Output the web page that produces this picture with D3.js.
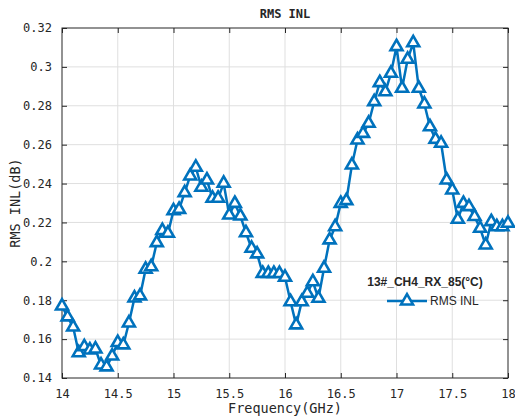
<!DOCTYPE html>
<html>
<head>
<meta charset="utf-8">
<script src="https://cdn.jsdelivr.net/npm/d3@7"></script>
<style>
  body { margin: 0; background: #fff; }
  svg text { fill: #262626; }
</style>
</head>
<body>
<div id="chart"></div>
<script>
// frequency grid, 14 to 18 GHz in 0.05 steps
var freqs = d3.range(81).map(function (i) { return +(14 + i * 0.05).toFixed(2) })

// RMS INL values
var rmsInl = [
  0.1770, 0.1714, 0.1662, 0.1530, 0.1561, 0.1544, 0.1549, 0.1467, 0.1457, 0.1513,
  0.1582, 0.1570, 0.1683, 0.1811, 0.1822, 0.1959, 0.1972, 0.2096, 0.2158, 0.2144,
  0.2260, 0.2267, 0.2353, 0.2439, 0.2484, 0.2381, 0.2418, 0.2324, 0.2324, 0.2401,
  0.2238, 0.2298, 0.2233, 0.2147, 0.2067, 0.2038, 0.1938, 0.1938, 0.1938, 0.1937,
  0.1918, 0.1792, 0.1673, 0.1792, 0.1836, 0.1895, 0.1810, 0.1964, 0.2110, 0.2178,
  0.2298, 0.2312, 0.2495, 0.2624, 0.2658, 0.2710, 0.2821, 0.2919, 0.2872, 0.2967,
  0.3104, 0.2890, 0.3039, 0.3124, 0.2890, 0.2809, 0.2692, 0.2628, 0.2607, 0.2418,
  0.2367, 0.2216, 0.2298, 0.2281, 0.2230, 0.2170, 0.2084, 0.2204, 0.2178, 0.2178,
  0.2196
]

var xTicks = [14, 14.5, 15, 15.5, 16, 16.5, 17, 17.5, 18]
var yTicks = [0.14, 0.16, 0.18, 0.2, 0.22, 0.24, 0.26, 0.28, 0.3, 0.32]

var W = 515
var H = 419
var margin = {top: 28, right: 7, bottom: 41, left: 62}
var width = W - margin.left - margin.right
var height = H - margin.top - margin.bottom
var blue = '#0072BD'
var mono = '"DejaVu Sans Mono", monospace'

var svg = d3.select('#chart')
  .append('svg')
  .attr('width', W)
  .attr('height', H)

var g = svg.append('g')
  .attr('transform', 'translate(' + margin.left + ',' + margin.top + ')')

var x = d3.scaleLinear().domain([14, 18]).range([0, width])
var y = d3.scaleLinear().domain([0.14, 0.32]).range([height, 0])

// grid
g.append('g').selectAll('line')
  .data(xTicks.slice(1, -1))
  .enter().append('line')
  .attr('x1', function (d) { return x(d) }).attr('x2', function (d) { return x(d) })
  .attr('y1', 0).attr('y2', height)
  .attr('stroke', '#dfdfdf').attr('stroke-width', 1)
g.append('g').selectAll('line')
  .data(yTicks.slice(1, -1))
  .enter().append('line')
  .attr('y1', function (d) { return y(d) }).attr('y2', function (d) { return y(d) })
  .attr('x1', 0).attr('x2', width)
  .attr('stroke', '#dfdfdf').attr('stroke-width', 1)

// axes, ticks pointing inward
var fmt = function (d) { return String(+d.toFixed(2)) }
function styleAxis (sel) {
  sel.select('.domain').remove()
  sel.selectAll('.tick line').attr('stroke', '#262626')
  sel.selectAll('.tick text').style('font-family', mono).style('font-size', '12px').attr('fill', '#262626')
}
g.append('g').attr('transform', 'translate(0,' + height + ')')
  .call(d3.axisBottom(x).tickValues(xTicks).tickFormat(fmt).tickSizeInner(-5).tickSizeOuter(0).tickPadding(11))
  .call(styleAxis)
g.append('g')
  .call(d3.axisTop(x).tickValues(xTicks).tickFormat('').tickSizeInner(-5).tickSizeOuter(0))
  .call(styleAxis)
g.append('g')
  .call(d3.axisLeft(y).tickValues(yTicks).tickFormat(fmt).tickSizeInner(-5).tickSizeOuter(0).tickPadding(10))
  .call(styleAxis)
g.append('g').attr('transform', 'translate(' + width + ',0)')
  .call(d3.axisRight(y).tickValues(yTicks).tickFormat('').tickSizeInner(-5).tickSizeOuter(0))
  .call(styleAxis)

g.append('rect')
  .attr('x', 0).attr('y', 0).attr('width', width).attr('height', height)
  .attr('fill', 'none').attr('stroke', '#262626').attr('stroke-width', 1)

// series
var pts = freqs.map(function (f, i) { return [f, rmsInl[i]] })
var line = d3.line().x(function (d) { return x(d[0]) }).y(function (d) { return y(d[1]) })
g.append('path')
  .datum(pts)
  .attr('d', line)
  .attr('fill', 'none')
  .attr('stroke', blue)
  .attr('stroke-width', 2.5)
  .attr('stroke-linejoin', 'round')

var tri = d3.symbol().type(d3.symbolTriangle).size(62)
g.append('g').selectAll('path')
  .data(pts)
  .enter().append('path')
  .attr('d', tri)
  .attr('transform', function (d) { return 'translate(' + x(d[0]) + ',' + y(d[1]) + ')' })
  .attr('fill', '#fff')
  .attr('stroke', blue)
  .attr('stroke-width', 2.6)
  .attr('stroke-linejoin', 'miter')

// title and labels
svg.append('text')
  .attr('x', margin.left + width / 2).attr('y', 18)
  .attr('text-anchor', 'middle')
  .style('font-family', mono).style('font-size', '12px').style('font-weight', 'bold')
  .text('RMS INL')
svg.append('text')
  .attr('x', margin.left + width / 2).attr('y', 413)
  .attr('text-anchor', 'middle')
  .style('font-family', mono).style('font-size', '13.5px')
  .text('Frequency(GHz)')
svg.append('text')
  .attr('transform', 'translate(20,' + (margin.top + height / 2) + ') rotate(-90)')
  .attr('text-anchor', 'middle')
  .style('font-family', mono).style('font-size', '13.5px')
  .text('RMS INL(dB)')

// legend
var lg = svg.append('g')
lg.append('text')
  .attr('x', 425).attr('y', 286)
  .attr('text-anchor', 'middle')
  .style('font-family', '"Liberation Sans", Arial, sans-serif').style('font-size', '12px').style('font-weight', 'bold')
  .text('13#_CH4_RX_85(°C)')
lg.append('line')
  .attr('x1', 387).attr('x2', 427).attr('y1', 301).attr('y2', 301)
  .attr('stroke', blue).attr('stroke-width', 2.5)
lg.append('path')
  .attr('d', tri)
  .attr('transform', 'translate(407,301)')
  .attr('fill', '#fff').attr('stroke', blue).attr('stroke-width', 2.6)
lg.append('text')
  .attr('x', 430).attr('y', 305)
  .style('font-family', '"Liberation Sans", Arial, sans-serif').style('font-size', '12px')
  .text('RMS INL')
</script>
</body>
</html>
